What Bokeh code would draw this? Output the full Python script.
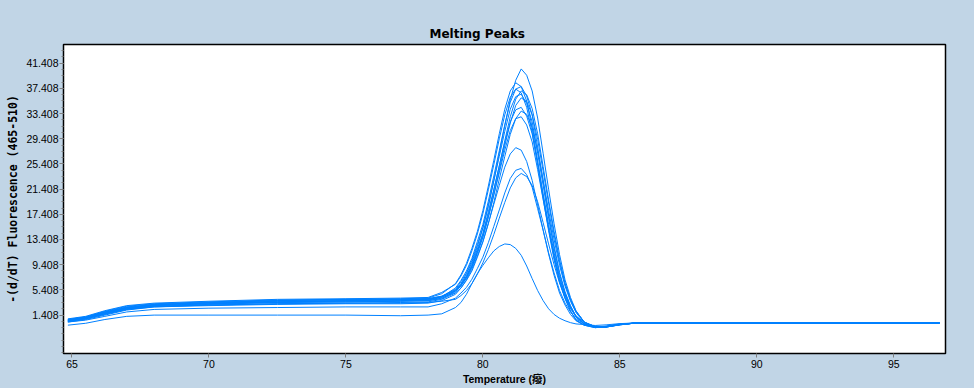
from bokeh.plotting import figure
from bokeh.models import FixedTicker
from bokeh.embed import file_html
from bokeh.resources import INLINE

# ---- data ----
temps = [64.85, 65.5, 66.2, 67.0, 68.0, 70.0, 72.5, 75.0, 77.0, 78.0, 78.5,
         79.0, 79.2, 79.4, 79.6, 79.8, 80.0, 80.2, 80.4, 80.6, 80.8, 81.0, 81.2,
         81.4, 81.6, 81.8, 82.0, 82.2, 82.4, 82.6, 82.8, 83.0, 83.2, 83.4,
         83.7, 84.1, 84.5, 85.0, 85.6, 96.67]

curve_a = [0.6, 1.0, 1.8, 2.6, 3.1, 3.4, 3.7, 3.9, 3.9, 4.0, 4.4,
           5.4, 6.4, 7.9, 9.8, 12.3, 15.2, 18.6, 22.8, 27.1, 31.5, 35.6, 38.7, 40.5, 39.5, 37.0, 32.7, 27.1, 21.4, 15.9, 11.0, 7.0, 4.2, 2.1,
           0.3, -0.5, -0.45, -0.1, 0.15, 0.15]
curve_b = [0.7, 1.1, 2.0, 2.8, 3.2, 3.5, 3.8, 3.9, 4.0, 4.1, 4.8,
           6.4, 7.8, 9.6, 12.0, 14.7, 18.0, 21.9, 26.0, 30.2, 34.1, 37.0, 38.3, 37.7, 35.4, 31.2, 25.9, 20.4, 15.2, 10.5, 6.8, 4.1, 2.1, 0.6,
           -0.2, -0.6, -0.4, -0.05, 0.15, 0.15]
curve_c = [0.5, 0.9, 1.7, 2.5, 3.0, 3.3, 3.5, 3.7, 3.8, 3.9, 4.3,
           5.7, 6.9, 8.4, 10.4, 13.1, 15.8, 19.5, 23.5, 27.5, 31.6, 35.2, 37.3, 37.7, 36.2, 33.2, 28.1, 22.7, 17.3, 12.4, 8.2, 5.1, 2.9, 1.2,
           0.0, -0.55, -0.5, -0.1, 0.15, 0.15]
curve_d = [0.8, 1.2, 2.1, 2.9, 3.3, 3.6, 3.9, 4.0, 4.1, 4.2, 5.0,
           6.3, 7.6, 9.3, 11.6, 14.3, 17.5, 21.3, 25.3, 29.4, 33.2, 36.0, 37.3, 36.7, 34.4, 30.4, 25.2, 19.9, 14.8, 10.2, 6.6, 4.0, 2.0, 0.6,
           -0.2, -0.6, -0.45, -0.05, 0.15, 0.15]
curve_e = [0.4, 0.8, 1.6, 2.4, 2.9, 3.2, 3.5, 3.6, 3.7, 3.8, 4.2,
           5.3, 6.2, 7.5, 9.2, 11.6, 14.2, 17.4, 21.2, 25.1, 29.1, 32.9, 35.7, 37.0, 36.4, 34.2, 30.2, 25.0, 19.7, 14.7, 10.2, 6.5, 3.9, 2.0,
           0.3, -0.45, -0.5, -0.15, 0.15, 0.15]
curve_f = [0.6, 1.0, 1.9, 2.7, 3.1, 3.4, 3.7, 3.8, 3.9, 4.0, 4.4,
           5.5, 6.7, 8.1, 10.1, 12.6, 15.3, 18.9, 22.7, 26.6, 30.6, 34.1, 36.1, 36.5, 35.0, 32.1, 27.1, 22.0, 16.8, 12.0, 7.9, 4.9, 2.8, 1.2,
           0.0, -0.55, -0.45, -0.1, 0.15, 0.15]
curve_g = [0.5, 0.9, 1.6, 2.3, 2.8, 3.1, 3.4, 3.5, 3.6, 3.7, 4.0,
           5.2, 6.0, 7.3, 9.0, 11.2, 13.8, 16.9, 20.5, 24.4, 28.3, 31.9, 34.7, 35.9, 35.3, 33.2, 29.3, 24.3, 19.2, 14.2, 9.8, 6.3, 3.8, 2.0,
           0.3, -0.45, -0.5, -0.15, 0.15, 0.15]
curve_h = [0.7, 1.1, 1.9, 2.6, 3.0, 3.3, 3.6, 3.7, 3.8, 3.9, 4.3,
           5.2, 6.3, 7.6, 9.5, 11.9, 14.4, 17.8, 21.4, 25.1, 28.8, 32.1, 34.0, 34.4, 33.0, 30.2, 25.6, 20.7, 15.8, 11.3, 7.4, 4.7, 2.6, 1.1,
           0.0, -0.5, -0.45, -0.1, 0.15, 0.15]
curve_i = [0.3, 0.7, 1.4, 2.2, 2.7, 3.0, 3.2, 3.3, 3.4, 3.5, 3.9,
           4.9, 5.7, 6.9, 8.4, 10.6, 13.0, 15.9, 19.3, 23.0, 26.6, 30.1, 32.6, 33.8, 33.3, 31.2, 27.5, 22.9, 18.0, 13.4, 9.3, 6.0, 3.6, 1.8,
           0.2, -0.45, -0.5, -0.15, 0.15, 0.15]
curve_j = [0.6, 1.0, 1.8, 2.5, 2.9, 3.2, 3.4, 3.5, 3.6, 3.7, 4.1,
           5.0, 6.1, 7.3, 9.1, 11.4, 13.8, 17.0, 20.5, 24.0, 27.6, 30.7, 32.6, 32.9, 31.6, 28.9, 24.5, 19.8, 15.1, 10.9, 7.1, 4.5, 2.5, 1.1,
           0.0, -0.5, -0.4, -0.1, 0.15, 0.15]
curve_k = [0.4, 0.8, 1.5, 2.3, 2.7, 2.9, 3.1, 3.2, 3.2, 3.3, 3.7,
           4.7, 5.7, 7.0, 8.7, 10.8, 13.1, 16.0, 19.0, 22.0, 24.9, 27.0, 28.0, 27.6, 25.8, 22.8, 18.9, 14.9, 11.1, 7.7, 4.9, 3.0, 1.5, 0.5,
           -0.2, -0.5, -0.35, 0.0, 0.15, 0.15]
curve_l = [0.3, 0.6, 1.2, 1.9, 2.3, 2.5, 2.6, 2.7, 2.7, 2.7, 3.2,
           4.1, 4.9, 5.8, 7.1, 8.8, 10.6, 12.9, 15.5, 18.1, 20.8, 23.1, 24.4, 24.7, 23.7, 21.7, 18.3, 14.9, 11.3, 8.1, 5.3, 3.3, 1.9, 0.8,
           0.0, -0.45, -0.4, -0.05, 0.15, 0.15]
curve_m = [0.5, 0.9, 1.7, 2.4, 2.8, 3.0, 3.2, 3.3, 3.3, 3.4, 3.6,
           3.9, 4.5, 5.3, 6.4, 7.9, 9.7, 11.8, 14.2, 16.8, 19.3, 21.6, 23.2, 23.9, 23.4, 22.0, 19.4, 16.1, 12.7, 9.4, 6.5, 4.2, 2.5, 1.3,
           0.2, -0.4, -0.45, -0.1, 0.15, 0.15]
curve_n = [-0.2, 0.1, 0.7, 1.2, 1.4, 1.4, 1.4, 1.4, 1.3, 1.4, 1.6,
           2.6, 3.4, 4.7, 6.4, 8.0, 9.3, 10.5, 11.6, 12.3, 12.7, 12.6, 12.0, 10.9, 9.2, 7.2, 5.3, 3.7, 2.4, 1.5, 0.9, 0.5, 0.2, 0.0,
           -0.1, -0.25, -0.15, 0.05, 0.15, 0.15]

x_ticks = [65, 70, 75, 80, 85, 90, 95]
y_ticks = [1.408, 5.408, 9.408, 13.408, 17.408, 21.408, 25.408, 29.408, 33.408, 37.408, 41.408]
y_tick_labels = ["1.408", "5.408", "9.408", "13.408", "17.408", "21.408", "25.408",
                 "29.408", "33.408", "37.408", "41.408"]

title_text = "Melting Peaks"
x_label = "Temperature (癈)"
y_label = "-(d/dT) Fluorescence (465-510)"

# ---- styling ----
BG = "#C1D5E6"
LINE = "#0080FF"
TICK = "#808080"

p = figure(width=974, height=388, output_backend="svg", toolbar_location=None,
           x_range=(64.69, 96.89), y_range=(-4.70, 44.38),
           min_border_left=63, min_border_right=29, min_border_top=44, min_border_bottom=35,
           background_fill_color="white", border_fill_color=BG)

p.title.text = title_text
p.title.align = "left"
p.title.offset = 366
p.title.text_font = "DejaVu Sans"
p.title.text_font_size = "12px"
p.title.text_font_style = "bold"
p.title.text_color = "black"
p.title.standoff = 8

p.outline_line_color = "black"
p.outline_line_width = 1.5
p.grid.visible = False

for c in [curve_a, curve_b, curve_c, curve_d, curve_e, curve_f, curve_g,
          curve_h, curve_i, curve_j, curve_k, curve_l, curve_m, curve_n]:
    p.line(temps, c, line_color=LINE, line_width=1)

minor_y = [round(1.408 + k, 3) for k in range(-6, 44)]
p.yaxis.ticker = FixedTicker(ticks=y_ticks, minor_ticks=minor_y)
p.yaxis.major_label_overrides = {t: s for t, s in zip(y_ticks, y_tick_labels)}
p.xaxis.ticker = FixedTicker(ticks=x_ticks)

for ax in (p.xaxis, p.yaxis):
    ax.axis_line_color = "black"
    ax.major_tick_line_color = TICK
    ax.minor_tick_line_color = TICK
    ax.major_tick_in = 0
    ax.minor_tick_in = 0
    ax.major_tick_out = 4
    ax.minor_tick_out = 2
    ax.major_label_text_font = "Liberation Sans"
    ax.major_label_text_font_size = "10.5px"
    ax.major_label_text_color = "black"

p.xaxis.minor_tick_line_color = None
p.xaxis.major_label_standoff = 2
p.yaxis.major_label_standoff = 1

p.xaxis.axis_label = x_label
p.xaxis.axis_label_text_font = "Liberation Sans, Noto Sans CJK SC"
p.xaxis.axis_label_text_font_size = "10.5px"
p.xaxis.axis_label_text_font_style = "bold"
p.xaxis.axis_label_text_color = "black"
p.xaxis.axis_label_standoff = 2

p.yaxis.axis_label = y_label
p.yaxis.axis_label_text_font = "DejaVu Sans Mono"
p.yaxis.axis_label_text_font_size = "11.5px"
p.yaxis.axis_label_text_font_style = "bold"
p.yaxis.axis_label_text_color = "black"
p.yaxis.axis_label_standoff = 3

html = file_html(p, INLINE, title="Melting Peaks")
html = html.replace("</head>", "<style>html,body{background:%s;overflow:hidden;}</style></head>" % BG, 1)
open("out.html", "w").write(html)
